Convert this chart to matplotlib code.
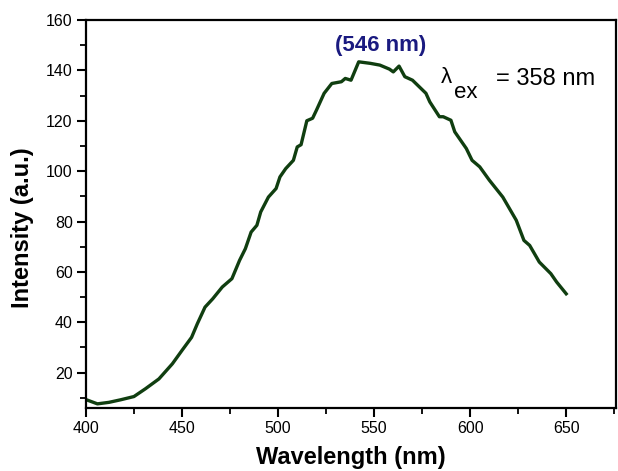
import matplotlib
matplotlib.use("Agg")
import matplotlib.pyplot as plt
from matplotlib.ticker import MultipleLocator

plt.rcParams["font.family"] = ["Liberation Sans", "DejaVu Sans"]

# PL emission spectrum
wavelength = [400, 406, 412, 418, 425, 431, 438, 445, 450, 455,
              458, 462, 466, 471, 476, 480, 483, 486, 489, 491,
              495, 499, 501, 504, 508, 510, 512, 515, 518, 520,
              524, 528, 533, 535, 538, 542, 548, 553, 558, 560,
              563, 566, 570, 577, 579, 584, 586, 590, 592, 598,
              601, 605, 610, 617, 624, 628, 631, 636, 642, 645, 650]
intensity = [9.3, 7.6, 8.2, 9.2, 10.5, 13.6, 17.5, 23.5, 28.8, 34.0,
             39.4, 46.0, 49.3, 54.0, 57.3, 64.6, 69.2, 75.8, 78.5, 83.8,
             89.7, 93.1, 97.7, 101.0, 104.3, 109.6, 110.5, 120.0, 121.0, 124.2,
             130.9, 134.8, 135.5, 136.8, 136.1, 143.4, 142.8, 142.1, 140.5, 139.4,
             141.7, 137.5, 136.1, 130.9, 127.5, 121.6, 121.6, 120.2, 115.6, 109.0,
             104.3, 101.7, 96.4, 89.7, 80.5, 72.5, 70.5, 63.9, 59.3, 56.0, 51.3]

peak_label = "(546 nm)"
excitation_label = "= 358 nm"

fig = plt.figure(figsize=(6.18, 4.71), dpi=100)
ax = fig.add_axes([0.139, 0.134, 0.858, 0.8235])

ax.plot(wavelength, intensity, color="#103e10", lw=2.4,
        solid_joinstyle="round")

ax.set_xlim(400, 676)
ax.set_ylim(6, 160)
ax.xaxis.set_major_locator(MultipleLocator(50))
ax.xaxis.set_minor_locator(MultipleLocator(25))
ax.yaxis.set_minor_locator(MultipleLocator(10))
ax.set_yticks([20, 40, 60, 80, 100, 120, 140, 160])

ax.tick_params(which="major", direction="out", length=6.5, width=1.5,
               labelsize=11.5, pad=3)
ax.tick_params(which="minor", direction="out", length=4, width=1.3)
for side in ["left", "bottom", "top", "right"]:
    ax.spines[side].set_linewidth(1.6)

ax.set_xlabel("Wavelength (nm)", fontsize=17, fontweight="bold")
ax.set_ylabel("Intensity (a.u.)", fontsize=17, fontweight="bold")
ax.xaxis.set_label_coords(0.5, -0.098)
ax.yaxis.set_label_coords(-0.098, 0.465)

ax.text(553.5, 150, peak_label, color="#1a1a80", fontsize=16,
        fontweight="bold", ha="center", va="center")
ax.text(585.0, 135.0, "λ", fontsize=16, ha="left", va="baseline")
ax.text(591.6, 129.0, "ex", fontsize=16, ha="left", va="baseline")
ax.text(613.4, 134.2, excitation_label, fontsize=17, ha="left", va="baseline")

fig.savefig("out.png", dpi=100)
